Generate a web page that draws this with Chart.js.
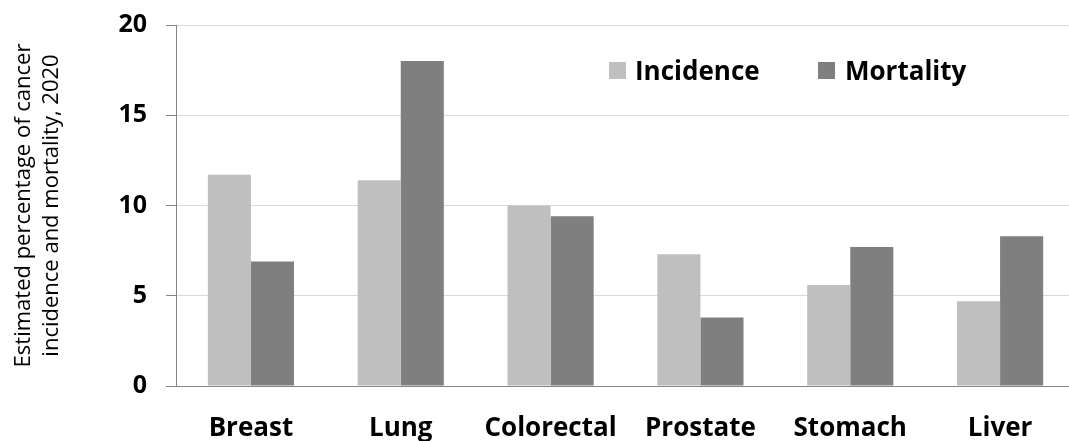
<!DOCTYPE html>
<html>
<head>
<meta charset="utf-8">
<script src="https://cdn.jsdelivr.net/npm/chart.js@4/dist/chart.umd.min.js"></script>
<style>
  html, body { margin: 0; padding: 0; background: #fff; overflow: hidden; }
  #wrap { width: 1080px; height: 441px; }
</style>
</head>
<body>
<div id="wrap"><canvas id="c" width="1080" height="441"></canvas></div>
<script>
// Cancer sites and estimated share (%) of global incidence and mortality, 2020
const categories = ['Breast', 'Lung', 'Colorectal', 'Prostate', 'Stomach', 'Liver'];
const incidence = [11.7, 11.4, 10.0, 7.3, 5.6, 4.7];
const mortality = [6.9, 18.0, 9.4, 3.8, 7.7, 8.3];
const seriesNames = ['Incidence', 'Mortality'];
const yTicks = [0, 5, 10, 15, 20];
const yTitle = ['Estimated percentage of cancer', 'incidence and mortality, 2020'];

const FONT = '"Open Sans", "DejaVu Sans", sans-serif';

// Legend drawn inside the plot area, upper right
const insideLegend = {
  id: 'insideLegend',
  afterDraw(chart) {
    const ctx = chart.ctx;
    const spots = [{ box: 609, text: 635 }, { box: 818, text: 845 }];
    ctx.save();
    ctx.font = 'bold 26px ' + FONT;
    ctx.textBaseline = 'alphabetic';
    ctx.textAlign = 'left';
    chart.data.datasets.forEach((ds, i) => {
      const s = spots[i];
      ctx.fillStyle = ds.backgroundColor;
      ctx.fillRect(s.box, 62, 17, 17);
      ctx.fillStyle = '#000';
      ctx.fillText(ds.label, s.text, 80);
    });
    ctx.restore();
  }
};

new Chart(document.getElementById('c'), {
  type: 'bar',
  data: {
    labels: categories,
    datasets: [
      { label: seriesNames[0], data: incidence, backgroundColor: '#bfbfbf', borderWidth: 0 },
      { label: seriesNames[1], data: mortality, backgroundColor: '#7f7f7f', borderWidth: 0 }
    ]
  },
  options: {
    responsive: false,
    animation: false,
    devicePixelRatio: 1,
    layout: { padding: { top: 25, right: 5, left: 0, bottom: 0 } },
    datasets: { bar: { categoryPercentage: 0.575, barPercentage: 1.0 } },
    plugins: {
      legend: { display: false },
      tooltip: { enabled: false }
    },
    scales: {
      x: {
        grid: { display: false, drawTicks: false },
        border: { display: true, color: '#868686', width: 1 },
        ticks: {
          color: '#000',
          font: { family: FONT, size: 26, weight: 'bold' },
          padding: 27,
          maxRotation: 0,
          autoSkip: false
        },
        afterFit(scale) { scale.height = 55; }
      },
      y: {
        min: 0,
        max: 20,
        afterBuildTicks(scale) { scale.ticks = yTicks.map(v => ({ value: v })); },
        grid: { color: '#d9d9d9', tickColor: '#868686', tickLength: 10, drawTicks: true },
        border: { display: true, color: '#868686', width: 1 },
        ticks: {
          color: '#000',
          font: { family: FONT, size: 25, weight: 'bold' },
          padding: 19
        },
        title: {
          display: true,
          text: yTitle,
          color: '#000',
          font: { family: FONT, size: 22, weight: 'normal', lineHeight: 1.25 },
          padding: { top: 10, bottom: 0 }
        },
        afterFit(scale) {
          scale.width = 176;
          scale.paddingTop = 0;
          scale.paddingBottom = 0;
        }
      }
    }
  },
  plugins: [insideLegend]
});
</script>
</body>
</html>
